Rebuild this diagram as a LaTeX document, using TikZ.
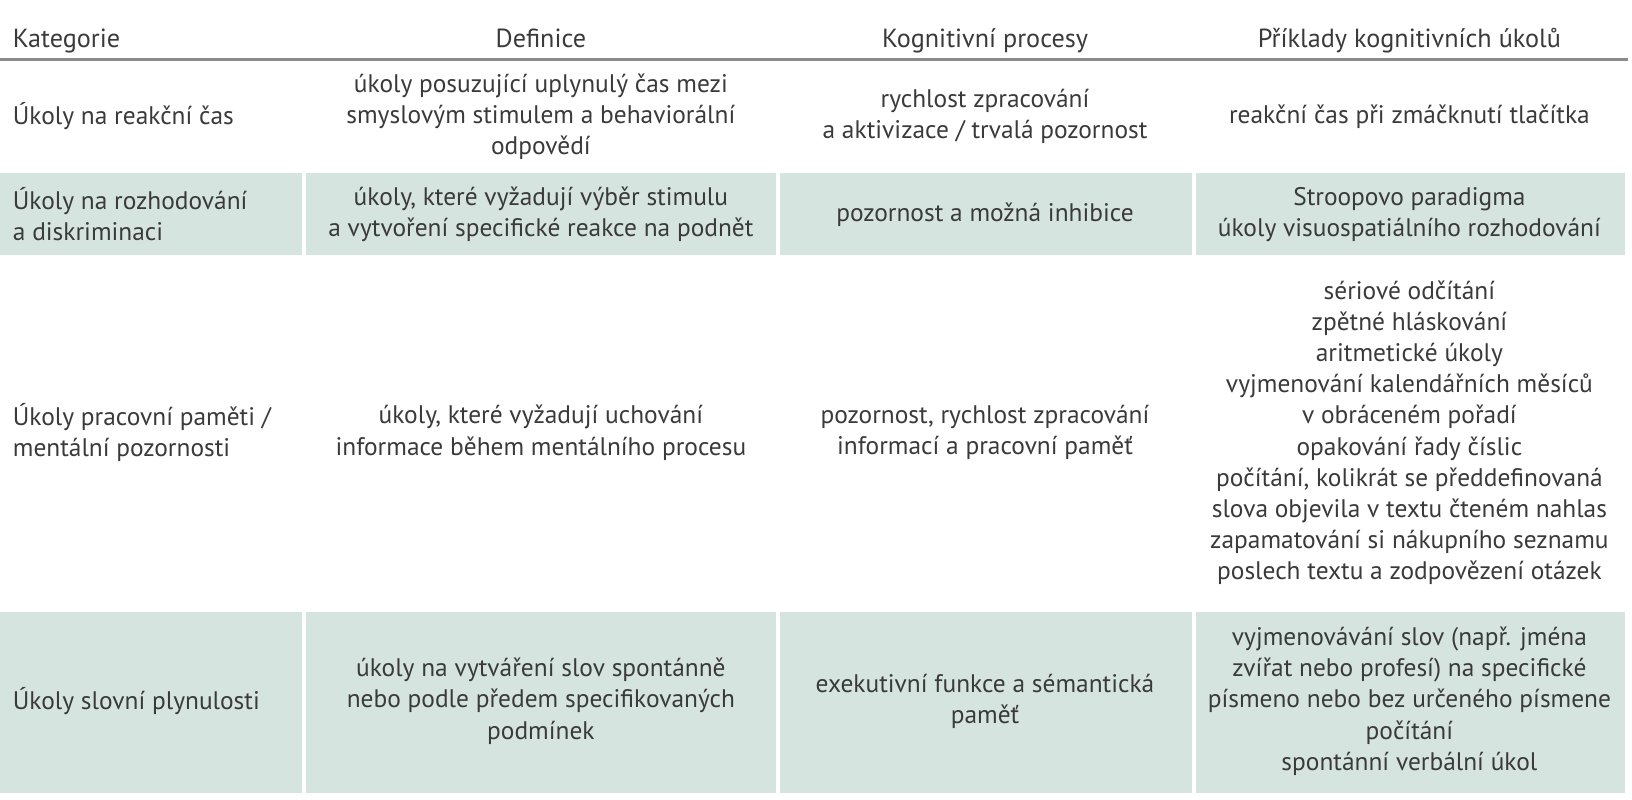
\documentclass[tikz,border=0pt]{standalone}
\usepackage{fontspec}
\setmainfont{PT Sans}
\definecolor{txt}{HTML}{3A3A3A}
\definecolor{rowfill}{HTML}{D6E4E0}
\definecolor{rule}{HTML}{8A8A8A}
\begin{document}
\begin{tikzpicture}[x=0.52pt,y=-0.52pt,
  every node/.style={text=txt,font=\fontsize{12.7}{15.6}\selectfont,inner sep=0pt},
  head/.style={font=\fontsize{13.1}{15.6}\selectfont,anchor=base},
  cat/.style={anchor=west,align=left},
  cell/.style={align=center}]
\useasboundingbox (0,0) rectangle (1569,769);
% shaded rows
\foreach \ya/\yb in {166/245, 588/762}{
  \foreach \xa/\xb in {0/290, 294/746, 750/1146, 1150/1562}
    \fill[rowfill] (\xa,\ya) rectangle (\xb,\yb);
}
\draw[rule,line width=1.5pt] (0,57) -- (1565,57);
% header
\node[head,anchor=base west] (hcat) at (12,46) {Kategorie};
\node[head] (hdef) at (520,46) {Definice};
\node[head] (hproc) at (947,46) {Kognitivní procesy};
\node[head] (hex) at (1355,46) {Příklady kognitivních úkolů};
% row 1
\node[cat] (cat1) at (12,112) {Úkoly na reakční čas};
\node[cell] (def1) at (520,112) {úkoly posuzující uplynulý čas mezi\\smyslovým stimulem a behaviorální\\odpovědí};
\node[cell] (proc1) at (947,112) {rychlost zpracování\\a aktivizace / trvalá pozornost};
\node[cell] (ex1) at (1355,112) {reakční čas při zmáčknutí tlačítka};
% row 2
\node[cat] (cat2) at (12,206) {Úkoly na rozhodování\\a diskriminaci};
\node[cell] (def2) at (520,206) {úkoly, které vyžadují výběr stimulu\\a vytvoření specifické reakce na podnět};
\node[cell] (proc2) at (947,206) {pozornost a možná inhibice};
\node[cell] (ex2) at (1355,206) {Stroopovo paradigma\\úkoly visuospatiálního rozhodování};
% row 3
\node[cat] (cat3) at (12,416) {Úkoly pracovní paměti /\\mentální pozornosti};
\node[cell] (def3) at (520,416) {úkoly, které vyžadují uchování\\informace během mentálního procesu};
\node[cell] (proc3) at (947,416) {pozornost, rychlost zpracování\\informací a pracovní paměť};
\node[cell] (ex3) at (1355,416) {sériové odčítání\\zpětné hláskování\\aritmetické úkoly\\vyjmenování kalendářních měsíců\\v obráceném pořadí\\opakování řady číslic\\počítání, kolikrát se předdefinovaná\\slova objevila v textu čteném nahlas\\zapamatování si nákupního seznamu\\poslech textu a zodpovězení otázek};
% row 4
\node[cat] (cat4) at (12,674) {Úkoly slovní plynulosti};
\node[cell] (def4) at (520,674) {úkoly na vytváření slov spontánně\\nebo podle předem specifikovaných\\podmínek};
\node[cell] (proc4) at (947,674) {exekutivní funkce a sémantická\\paměť};
\node[cell] (ex4) at (1355,674) {vyjmenovávání slov (např. jména\\zvířat nebo profesí) na specifické\\písmeno nebo bez určeného písmene\\počítání\\spontánní verbální úkol};
\end{tikzpicture}
\end{document}
